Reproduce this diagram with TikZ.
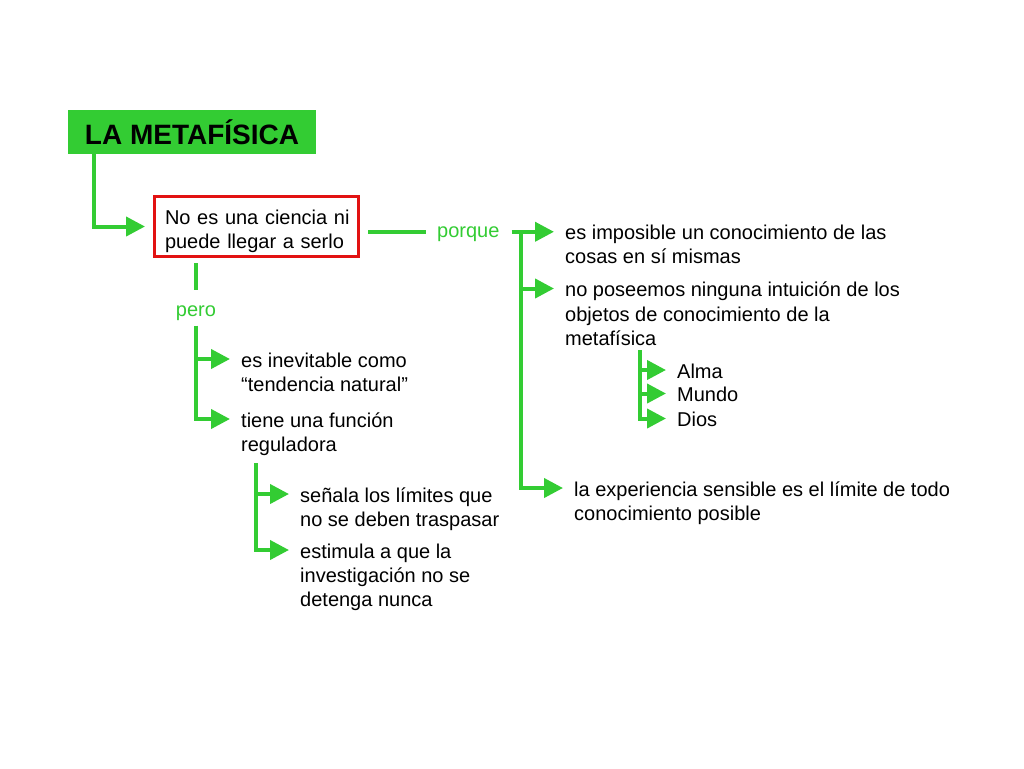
\documentclass[tikz,border=0pt]{standalone}
\usepackage{fontspec}
\setmainfont{Liberation Sans}
\usetikzlibrary{arrows.meta,calc}
\definecolor{gr}{RGB}{51,204,51}
\definecolor{rd}{RGB}{226,18,18}
\newcommand{\lnT}{\rule{0pt}{16pt}}
\begin{document}
\begin{tikzpicture}[x=1pt,y=-1pt,
  ln/.style={draw=gr,line width=4pt},
  arr/.style={ln,-{Triangle[length=19pt,width=19pt]}},
  txt/.style={font=\fontsize{20}{24.3}\selectfont,align=left,inner sep=0pt,anchor=north west},
  titlebox/.style={fill=gr,minimum width=248pt,minimum height=44pt,inner sep=0pt,font=\fontsize{28}{30}\selectfont\bfseries},
  redbox/.style={draw=rd,line width=3pt,minimum width=204pt,minimum height=60pt,inner xsep=10.5pt,inner ysep=0pt,text width=183pt,align=left,font=\fontsize{20}{24}\selectfont}
]
\fill[white] (0,0) rectangle (1024,768);
\useasboundingbox (0,0) rectangle (1024,768);

% nodes
\node[titlebox] (title) at (192,132) {LA METAFÍSICA};
\node[redbox] (nocien) at (256.5,226.5) {\rule{0pt}{23.2pt}\mbox{No es una ciencia ni}\\\mbox{puede llegar a serlo}};
\node[txt,text=gr] (porque) at (437,221.5) {\lnT porque};
\node[txt,text=gr,anchor=north] (pero) at (196,300) {\lnT pero};

\node[txt] (t1) at (565,223) {\lnT es imposible un conocimiento de las\\cosas en sí mismas};
\node[txt] (t2) at (565,280.5) {\lnT no poseemos ninguna intuición de los\\objetos de conocimiento de la\\metafísica};
\node[txt] (alma) at (677,362) {\lnT Alma};
\node[txt] (mundo) at (677,385.5) {\lnT Mundo};
\node[txt] (dios) at (677,410.5) {\lnT Dios};
\node[txt] (t3) at (574,480) {\lnT la experiencia sensible es el límite de todo\\conocimiento posible};

\node[txt] (inev) at (241,351) {\lnT es inevitable como\\“tendencia natural”};
\node[txt] (func) at (241,411) {\lnT tiene una función\\reguladora};
\node[txt] (senala) at (300,486) {\lnT señala los límites que\\no se deben traspasar};
\node[txt] (estim) at (300,542) {\lnT estimula a que la\\investigación no se\\detenga nunca};

% arrow tips
\foreach \n in {t1,t2,alma,mundo,dios,t3,inev,func,senala,estim}
  \coordinate (\n-tip) at ($(\n.north west)+(-11,8)$);

% junctions
\coordinate (pL) at ($(nocien.east)+(8,0)$);
\coordinate (pR) at ($(porque.east)+(12,0)$);
\coordinate (trR) at (521,0);
\coordinate (av) at (640,350);
\coordinate (trL) at (196,0);
\coordinate (sv) at ($(func.south west)+(15,7.5)$);

% connectors
\draw[arr] ($(title.south west)+(26,0)$) |- ($(nocien.west)+(-8,0)$);

\draw[ln] (pL |- porque.west) -- ($(porque.west)+(-11,0)$);
\draw[arr] (pR |- porque.west) -- (t1-tip |- porque.west);
\draw[arr] (trR |- porque.west) |- (t3-tip);
\draw[arr] (trR |- t2-tip) -- (t2-tip);

\draw[arr] (av) |- (dios-tip);
\draw[arr] (av |- alma-tip) -- (alma-tip);
\draw[arr] (av |- mundo-tip) -- (mundo-tip);

\draw[ln] ($(pero.north |- nocien.south)+(0,5)$) -- ($(pero.north)+(0,-10)$);
\draw[arr] ($(pero.south)+(0,5)$) |- (func-tip);
\draw[arr] (trL |- inev-tip) -- (inev-tip);

\draw[arr] (sv) |- (estim-tip);
\draw[arr] (sv |- senala-tip) -- (senala-tip);
\end{tikzpicture}
\end{document}
